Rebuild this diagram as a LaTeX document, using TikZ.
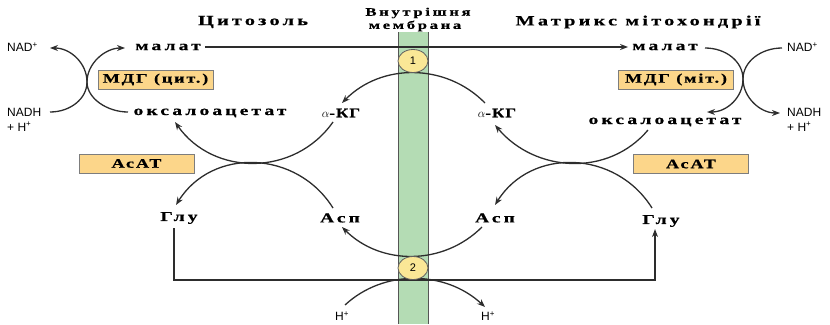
\documentclass[tikz,border=0pt]{standalone}
\usepackage{fontspec}
\setmainfont{Liberation Serif}
\newfontfamily\lblfont{Liberation Serif}[FakeStretch=1.45,LetterSpace=23,FakeBold=0.6]
\newfontfamily\boxfont{Liberation Serif}[FakeStretch=1.4,LetterSpace=14,FakeBold=0.6]
\newfontfamily\akgfont{Liberation Serif}[FakeStretch=1.3,LetterSpace=8,FakeBold=0.6]
\newfontfamily\sansfnt{Liberation Sans}
\usetikzlibrary{arrows.meta,shapes.geometric}
\definecolor{lncol}{RGB}{45,45,45}
\definecolor{boxfill}{RGB}{252,214,138}
\definecolor{boxedge}{RGB}{125,125,125}
\definecolor{trfill}{RGB}{250,231,150}
\definecolor{tredge}{RGB}{95,95,95}
\definecolor{bandfill}{RGB}{180,220,180}
\definecolor{bandedge}{RGB}{85,85,85}
\begin{document}
\begin{tikzpicture}[x=1pt,y=-1pt,
  lbl/.style={font=\lblfont\bfseries\fontsize{13.5}{13.5}\selectfont,inner sep=0pt},
  ttl/.style={font=\lblfont\bfseries\fontsize{14}{14}\selectfont,inner sep=0pt},
  mem/.style={font=\lblfont\bfseries\fontsize{11.5}{11.5}\selectfont,inner sep=0pt},
  akg/.style={font=\akgfont\bfseries\fontsize{13}{13}\selectfont,inner sep=0pt},
  sans/.style={font=\sansfnt\fontsize{12}{15}\selectfont,inner sep=0pt},
  enz/.style={draw=boxedge,fill=boxfill,line width=0.8pt,minimum width=115pt,minimum height=19pt,inner sep=0pt,font=\boxfont\bfseries\fontsize{13}{13}\selectfont},
  trans/.style={ellipse,draw=tredge,fill=trfill,line width=0.8pt,minimum width=30pt,minimum height=23pt,inner sep=0pt,font=\sansfnt\fontsize{11}{11}\selectfont},
  ln/.style={draw=lncol,line width=1.3pt},
  arr/.style={-{Stealth[length=8pt,width=6pt]}}]
\useasboundingbox (0,0) rectangle (830,324);
% membrane band
\fill[bandfill] (398,32) rectangle (428,324);
\draw[bandedge,line width=0.8pt] (398,32) -- (398,324) (428,32) -- (428,324);
% titles
\node[ttl] (cyt) at (253,22) {Цитозоль};
\node[mem] (mem1) at (418,13) {Внутрішня};
\node[mem] (mem2) at (415,26) {мембрана};
\node[ttl] (mat) at (638,22) {Матрикс мітохондрії};
% metabolites
\node[lbl,inner xsep=4pt] (malL) at (168,47) {малат};
\node[lbl,inner xsep=4pt] (malR) at (665,47) {малат};
\node[sans,anchor=west] (nadL) at (7,47) {NAD\textsuperscript{+}};
\node[sans,anchor=west,align=left] (nadhL) at (7,119.5) {NADH\\+ H\textsuperscript{+}};
\node[sans,anchor=west] (nadR) at (787,47) {NAD\textsuperscript{+}};
\node[sans,anchor=west,align=left] (nadhR) at (787,119.5) {NADH\\+ H\textsuperscript{+}};
\node[enz] (mdgL) at (155.5,79.5) {МДГ (цит.)};
\node[enz] (mdgR) at (676,79.5) {МДГ (міт.)};
\node[lbl] (oaL) at (210,113) {оксалоацетат};
\node[akg] (akgL) at (341,113) {$\alpha$-КГ};
\node[akg] (akgR) at (497,113) {$\alpha$-КГ};
\node[lbl] (oaR) at (665,122) {оксалоацетат};
\node[enz] (asatL) at (136.5,163.5) {АсАТ};
\node[enz] (asatR) at (691,164) {АсАТ};
\node[lbl] (gluL) at (179,218) {Глу};
\node[lbl] (aspL) at (340,218) {Асп};
\node[lbl] (aspR) at (495,218) {Асп};
\node[lbl] (gluR) at (661,221) {Глу};
\node[sans] (hL) at (342,316) {H\textsuperscript{+}};
\node[sans] (hR) at (488,316) {H\textsuperscript{+}};
% arc end points
\coordinate (cL1a) at (50,112); \coordinate (cL1b) at (50,48);
\coordinate (cL2a) at (128,112); \coordinate (cL2b) at (125,48);
\coordinate (xL) at (87,82);
\coordinate (cR1a) at (705,48); \coordinate (cR1b) at (707,112);
\coordinate (cR2a) at (782,48); \coordinate (cR2b) at (780,113);
\coordinate (xR) at (743,79);
\coordinate (t1a) at (485,103); \coordinate (t1b) at (342,103);
\coordinate (t2a) at (482,227); \coordinate (t2b) at (342,227);
\coordinate (hA) at (345,305); \coordinate (hB) at (485,307);
\coordinate (aL1a) at (333,122); \coordinate (aL1b) at (175,122);
\coordinate (aL2a) at (333,208); \coordinate (aL2b) at (176,205);
\coordinate (aR1a) at (648,130); \coordinate (aR1b) at (495,125);
\coordinate (aR2a) at (652,208); \coordinate (aR2b) at (495,205);
\coordinate (low) at (413,280);
% MDH crossings
\draw[ln,arr] (cL1a) .. controls (70.4,112) and (87,98.6) .. (xL) .. controls (87,63.2) and (70.4,48) .. (cL1b);
\draw[ln,arr] (cL2a) .. controls (107.4,112) and (87,98.6) .. (xL) .. controls (87,63.2) and (105.4,48) .. (cL2b);
\draw[ln,arr] (cR1a) .. controls (726,48) and (743,61.6) .. (xR) .. controls (743,97.2) and (727,112) .. (cR1b);
\draw[ln,arr] (cR2a) .. controls (761,48) and (743,61.6) .. (xR) .. controls (743,97.2) and (760,113) .. (cR2b);
% AsAT crossings
\draw[ln,arr] (aL1a) .. controls (294.6,176.6) and (213.4,176.6) .. (aL1b);
\draw[ln,arr] (aL2a) .. controls (296.8,150) and (212.2,147) .. (aL2b);
\draw[ln,arr] (aR1a) .. controls (608,177.4) and (535,172.4) .. (aR1b);
\draw[ln,arr] (aR2a) .. controls (615.8,150) and (531.2,147) .. (aR2b);
% transports
\draw[ln,arr] (malL.east) -- (malR.west);
\draw[ln,arr] ([xshift=-5pt,yshift=-4pt]gluL.south) |- (low) -| ([xshift=-6pt,yshift=-2pt]gluR.south);
\draw[ln,arr] (t1a) .. controls (445.7,63) and (381.3,63) .. (t1b);
\draw[ln,arr] (t2a) .. controls (443.3,265.7) and (380.7,265.7) .. (t2b);
\draw[ln,arr] (hA) .. controls (384.2,268.7) and (445.8,270.7) .. (hB);
% transporters
\node[trans] (tr1) at (413,61) {1};
\node[trans] (tr2) at (413,268) {2};
\end{tikzpicture}
\end{document}
